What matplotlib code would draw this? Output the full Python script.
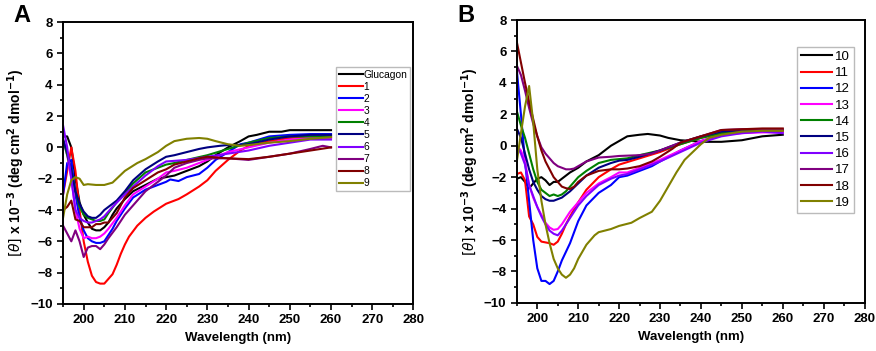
import numpy as np
import matplotlib
matplotlib.use("Agg")
from matplotlib import pyplot as plt
from matplotlib.ticker import MultipleLocator

plt.rcParams['font.family'] = ['Liberation Sans', 'DejaVu Sans']

# ---- panel A data (wavelength nm, ellipticity x10^-3) ----
wl_glucagon = [195, 196, 197, 198, 199, 200, 201, 202, 203, 204, 205, 206, 207, 208, 210, 212, 215, 218, 220, 222, 225, 228, 230, 232, 235, 238, 240, 242, 245, 248, 250, 255, 260]
cd_glucagon = [0.7, 0.7, 0.0, -2.0, -3.5, -4.3, -4.8, -5.2, -5.3, -5.3, -5.1, -4.8, -4.3, -3.9, -3.3, -2.8, -2.4, -2.0, -1.9, -1.8, -1.5, -1.2, -0.9, -0.5, 0.0, 0.4, 0.7, 0.8, 1.0, 1.0, 1.1, 1.1, 1.1]

wl_1 = [195, 196, 197, 198, 199, 200, 201, 202, 203, 204, 205, 206, 207, 208, 209, 210, 211, 213, 215, 217, 220, 223, 225, 228, 230, 232, 235, 238, 240, 245, 250, 255, 260]
cd_1 = [-3.0, -1.5, 0.0, -1.5, -4.0, -6.0, -7.3, -8.2, -8.6, -8.7, -8.7, -8.4, -8.1, -7.5, -6.8, -6.2, -5.7, -5.0, -4.5, -4.1, -3.6, -3.3, -3.0, -2.5, -2.1, -1.5, -0.8, -0.2, 0.1, 0.4, 0.6, 0.7, 0.7]

wl_2 = [195, 196, 197, 198, 199, 200, 201, 202, 203, 204, 205, 206, 207, 208, 210, 212, 215, 218, 220, 221, 223, 225, 228, 230, 232, 235, 238, 240, 245, 250, 255, 260]
cd_2 = [-3.0, -1.0, -0.8, -3.0, -4.5, -5.3, -5.8, -6.0, -6.1, -6.1, -6.0, -5.6, -5.2, -4.7, -3.9, -3.2, -2.7, -2.4, -2.2, -2.05, -2.15, -1.9, -1.7, -1.3, -0.8, -0.3, 0.2, 0.3, 0.7, 0.8, 0.85, 0.85]

wl_3 = [195, 196, 197, 198, 199, 200, 201, 202, 203, 204, 205, 206, 208, 210, 212, 215, 218, 220, 222, 225, 228, 230, 233, 235, 240, 245, 250, 255, 260]
cd_3 = [0.5, -0.5, -2.0, -4.0, -5.2, -5.8, -5.7, -5.8, -5.8, -5.7, -5.5, -5.2, -4.5, -3.7, -3.0, -2.5, -2.0, -1.6, -1.5, -1.3, -1.0, -0.8, -0.5, -0.3, 0.0, 0.3, 0.5, 0.6, 0.6]

wl_4 = [195, 196, 197, 198, 199, 200, 201, 202, 203, 204, 205, 206, 208, 210, 212, 215, 218, 220, 222, 225, 230, 235, 240, 245, 250, 255, 260]
cd_4 = [0.5, -0.5, -1.5, -2.8, -3.8, -4.3, -4.5, -4.6, -4.7, -4.7, -4.6, -4.2, -3.5, -2.9, -2.3, -1.6, -1.3, -1.1, -1.0, -0.8, -0.5, -0.1, 0.3, 0.6, 0.7, 0.7, 0.7]

wl_5 = [195, 196, 197, 198, 199, 200, 201, 202, 203, 204, 205, 206, 208, 210, 212, 215, 218, 220, 222, 225, 228, 230, 233, 235, 238, 240, 245, 250, 255, 260]
cd_5 = [0.5, -0.3, -1.5, -2.8, -3.6, -4.1, -4.4, -4.5, -4.5, -4.3, -4.0, -3.8, -3.4, -2.8, -2.1, -1.4, -0.9, -0.6, -0.5, -0.3, -0.1, 0.0, 0.1, 0.15, 0.15, 0.2, 0.5, 0.7, 0.8, 0.8]

wl_6 = [195, 196, 197, 198, 199, 200, 201, 202, 203, 204, 205, 207, 210, 212, 215, 218, 220, 225, 230, 235, 240, 245, 250, 255, 260]
cd_6 = [1.4, 0.0, -2.0, -4.0, -4.5, -4.7, -4.8, -4.8, -4.7, -4.6, -4.4, -3.8, -3.0, -2.5, -1.8, -1.2, -0.9, -0.8, -0.6, -0.4, -0.2, 0.1, 0.3, 0.5, 0.5]

wl_7 = [195, 196, 197, 198, 199, 200, 201, 202, 203, 204, 205, 206, 208, 210, 212, 215, 218, 220, 222, 225, 228, 230, 235, 240, 245, 250, 255, 258, 260]
cd_7 = [-5.0, -5.5, -6.0, -5.3, -6.0, -7.0, -6.4, -6.3, -6.3, -6.5, -6.2, -5.8, -5.1, -4.3, -3.7, -2.8, -2.2, -1.8, -1.3, -1.0, -0.8, -0.7, -0.7, -0.8, -0.6, -0.4, -0.1, 0.1, 0.0]

wl_8 = [195, 196, 197, 198, 199, 200, 201, 202, 203, 204, 205, 206, 208, 210, 212, 215, 218, 220, 222, 225, 228, 230, 235, 240, 245, 250, 255, 260]
cd_8 = [-4.0, -3.8, -3.4, -4.6, -4.7, -5.1, -5.1, -5.1, -4.9, -4.9, -4.8, -4.8, -4.2, -3.2, -2.6, -2.1, -1.6, -1.4, -1.1, -0.9, -0.7, -0.6, -0.7, -0.75, -0.6, -0.4, -0.2, 0.0]

wl_9 = [195, 196, 197, 198, 199, 200, 201, 203, 205, 207, 208, 210, 213, 215, 218, 220, 222, 225, 228, 230, 232, 235, 238, 240, 245, 250, 255, 260]
cd_9 = [-4.5, -3.0, -2.1, -1.9, -2.0, -2.4, -2.35, -2.4, -2.4, -2.25, -2.0, -1.5, -1.0, -0.75, -0.3, 0.1, 0.4, 0.55, 0.6, 0.55, 0.4, 0.2, 0.1, 0.15, 0.3, 0.4, 0.55, 0.65]

# ---- panel B data ----
wl_10 = [195, 196, 197, 198, 199, 200, 201, 202, 203, 204, 205, 206, 208, 210, 212, 215, 218, 220, 222, 225, 227, 230, 232, 235, 238, 240, 245, 250, 255, 260]
cd_10 = [-2.1, -2.0, -2.3, -2.7, -2.4, -2.1, -2.0, -2.2, -2.5, -2.3, -2.3, -2.1, -1.7, -1.4, -1.0, -0.6, 0.0, 0.3, 0.6, 0.7, 0.75, 0.65, 0.5, 0.35, 0.3, 0.25, 0.25, 0.35, 0.6, 0.7]

wl_11 = [195, 196, 197, 198, 199, 200, 201, 202, 203, 204, 205, 206, 207, 208, 210, 212, 215, 218, 220, 225, 230, 235, 240, 245, 250, 255, 260]
cd_11 = [-1.8, -1.7, -2.2, -4.5, -5.0, -5.8, -6.1, -6.15, -6.2, -6.3, -6.1, -5.6, -5.0, -4.5, -3.6, -2.8, -2.0, -1.5, -1.2, -0.8, -0.4, 0.1, 0.5, 0.8, 0.9, 0.9, 0.9]

wl_12 = [195, 196, 197, 198, 199, 200, 201, 202, 203, 204, 205, 206, 208, 210, 212, 215, 218, 220, 222, 225, 228, 230, 235, 240, 245, 250, 255, 260]
cd_12 = [4.8, 2.0, -1.0, -3.5, -6.0, -7.8, -8.6, -8.6, -8.8, -8.6, -8.0, -7.3, -6.2, -4.8, -3.8, -3.0, -2.5, -2.0, -1.9, -1.6, -1.3, -1.0, -0.3, 0.3, 0.7, 0.9, 0.95, 1.0]

wl_13 = [195, 196, 197, 198, 199, 200, 201, 202, 203, 204, 205, 206, 208, 210, 212, 215, 218, 220, 222, 225, 230, 235, 240, 245, 250, 255, 260]
cd_13 = [0.0, -0.3, -1.0, -2.5, -3.3, -3.9, -4.4, -4.9, -5.2, -5.35, -5.3, -5.0, -4.2, -3.6, -3.0, -2.4, -2.0, -1.7, -1.7, -1.4, -0.9, -0.3, 0.3, 0.7, 0.8, 0.85, 0.85]

wl_14 = [195, 196, 197, 198, 199, 200, 201, 202, 203, 204, 205, 206, 207, 208, 210, 212, 215, 218, 220, 222, 225, 230, 235, 240, 245, 250, 255, 260]
cd_14 = [2.2, 1.3, 0.5, -0.5, -1.5, -2.3, -2.8, -3.0, -3.2, -3.1, -3.2, -3.1, -2.9, -2.6, -2.0, -1.6, -1.1, -0.9, -0.85, -0.8, -0.6, -0.3, 0.1, 0.5, 0.8, 0.9, 0.95, 1.0]

wl_15 = [195, 196, 197, 198, 199, 200, 201, 202, 203, 204, 205, 206, 207, 208, 210, 212, 215, 218, 220, 222, 225, 230, 235, 240, 245, 250, 255, 260]
cd_15 = [1.1, 0.5, -0.5, -1.5, -2.3, -2.8, -3.2, -3.4, -3.5, -3.5, -3.4, -3.3, -3.1, -2.9, -2.4, -1.9, -1.4, -1.1, -0.95, -0.9, -0.7, -0.3, 0.2, 0.6, 0.9, 1.0, 1.0, 1.0]

wl_16 = [195, 196, 197, 198, 199, 200, 201, 202, 203, 204, 205, 206, 208, 210, 212, 215, 218, 220, 222, 225, 230, 235, 240, 245, 250, 255, 260]
cd_16 = [0.0, -0.5, -1.2, -2.5, -3.2, -3.9, -4.5, -5.0, -5.4, -5.6, -5.7, -5.4, -4.6, -3.8, -3.2, -2.5, -2.1, -1.9, -1.8, -1.5, -1.0, -0.4, 0.2, 0.6, 0.8, 0.9, 0.8]

wl_17 = [195, 196, 197, 198, 199, 200, 201, 202, 203, 204, 205, 206, 207, 208, 209, 210, 212, 215, 218, 220, 225, 228, 230, 235, 240, 245, 250, 255, 260]
cd_17 = [5.1, 4.5, 3.5, 2.4, 1.4, 0.6, -0.1, -0.5, -0.8, -1.1, -1.3, -1.4, -1.5, -1.5, -1.45, -1.3, -1.0, -0.75, -0.7, -0.65, -0.6, -0.5, -0.3, 0.2, 0.6, 1.0, 1.05, 1.05, 1.05]

wl_18 = [195, 196, 197, 198, 199, 200, 201, 202, 203, 204, 205, 206, 207, 208, 209, 210, 212, 215, 218, 220, 222, 225, 228, 230, 233, 235, 240, 245, 250, 255, 260]
cd_18 = [6.6, 5.3, 4.0, 2.8, 1.7, 0.6, -0.3, -1.0, -1.5, -2.0, -2.3, -2.6, -2.7, -2.75, -2.6, -2.3, -1.9, -1.6, -1.5, -1.5, -1.45, -1.3, -1.0, -0.7, -0.2, 0.2, 0.6, 1.0, 1.05, 1.1, 1.1]

wl_19 = [195, 196, 197, 198, 199, 200, 201, 202, 203, 204, 205, 206, 207, 208, 209, 210, 212, 214, 215, 218, 220, 223, 225, 228, 230, 232, 234, 236, 238, 240, 242, 245, 250, 255, 260]
cd_19 = [-1.0, 0.8, 2.5, 3.8, 1.5, -1.5, -3.5, -5.0, -6.2, -7.2, -7.8, -8.2, -8.4, -8.2, -7.8, -7.2, -6.3, -5.7, -5.5, -5.3, -5.1, -4.9, -4.6, -4.2, -3.5, -2.6, -1.7, -0.9, -0.4, 0.1, 0.5, 0.7, 0.9, 0.95, 0.95]

colors = ['black', '#ff0000', '#0000ff', '#ff00ff', '#008000', '#000080', '#8000ff', '#800080', '#800000', '#808000']

labels_a = ['Glucagon', '1', '2', '3', '4', '5', '6', '7', '8', '9']
series_a = [(wl_glucagon, cd_glucagon), (wl_1, cd_1), (wl_2, cd_2), (wl_3, cd_3), (wl_4, cd_4),
            (wl_5, cd_5), (wl_6, cd_6), (wl_7, cd_7), (wl_8, cd_8), (wl_9, cd_9)]
labels_b = ['10', '11', '12', '13', '14', '15', '16', '17', '18', '19']
series_b = [(wl_10, cd_10), (wl_11, cd_11), (wl_12, cd_12), (wl_13, cd_13), (wl_14, cd_14),
            (wl_15, cd_15), (wl_16, cd_16), (wl_17, cd_17), (wl_18, cd_18), (wl_19, cd_19)]

fig = plt.figure(figsize=(8.76, 3.51), dpi=100)
ax_a = fig.add_axes([0.072, 0.134, 0.40, 0.803])
ax_b = fig.add_axes([0.590, 0.137, 0.397, 0.806])

ylabel = r'$[\theta]$ x 10$^{\mathbf{-3}}$ (deg cm$^{\mathbf{2}}$ dmol$^{\mathbf{-1}}$)'


def style(ax):
    ax.set_xlim(195, 280)
    ax.set_ylim(-10, 8)
    ax.xaxis.set_major_locator(MultipleLocator(10))
    ax.xaxis.set_minor_locator(MultipleLocator(5))
    ax.yaxis.set_major_locator(MultipleLocator(2))
    ax.yaxis.set_minor_locator(MultipleLocator(1))
    ax.tick_params(which='both', direction='out', top=False, right=False, width=1.2)
    ax.tick_params(which='major', length=4, labelsize=9.5)
    ax.tick_params(which='minor', length=2.5)
    for lab in ax.get_xticklabels() + ax.get_yticklabels():
        lab.set_fontweight('bold')
    for s in ax.spines.values():
        s.set_linewidth(1.4)
    ax.set_xlabel('Wavelength (nm)', fontsize=9.5, fontweight='bold')
    ax.set_ylabel(ylabel, fontsize=10, fontweight='bold', labelpad=2)


for (x, y), c, lab in zip(series_a, colors, labels_a):
    ax_a.plot(x, y, color=c, lw=1.5, label=lab)
for (x, y), c, lab in zip(series_b, colors, labels_b):
    ax_b.plot(x, y, color=c, lw=1.5, label=lab)

style(ax_a)
style(ax_b)

leg_a = ax_a.legend(loc='upper left', bbox_to_anchor=(0.78, 0.84), fontsize=7.4, frameon=True,
                    fancybox=False, edgecolor='#aaaaaa', handlelength=2.3, handletextpad=0.1,
                    labelspacing=0.2, borderpad=0.25, borderaxespad=0)
leg_b = ax_b.legend(loc='upper left', bbox_to_anchor=(0.805, 0.905), fontsize=9.5, frameon=True,
                    fancybox=False, edgecolor='#aaaaaa', handlelength=2.4, handletextpad=0.2,
                    labelspacing=0.3, borderpad=0.3, borderaxespad=0)
for leg in (leg_a, leg_b):
    leg.get_frame().set_linewidth(1.0)

fig.text(0.015, 0.955, 'A', fontsize=17, fontweight='bold', va='center')
fig.text(0.522, 0.955, 'B', fontsize=17, fontweight='bold', va='center')

fig.savefig('out.png', dpi=100)
